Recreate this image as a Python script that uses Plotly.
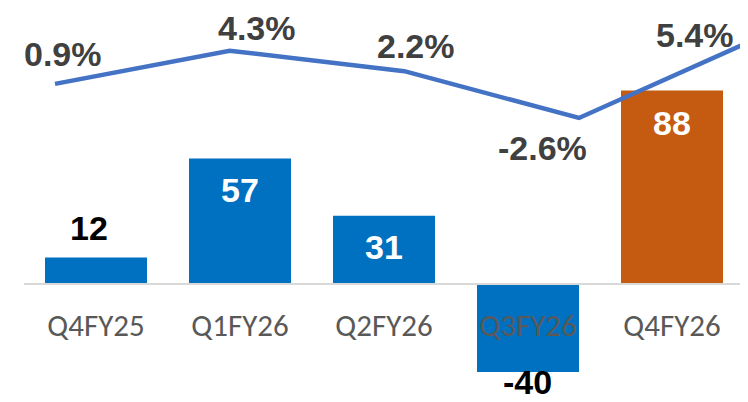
import plotly.graph_objects as go

# data
quarters = ["Q4FY25", "Q1FY26", "Q2FY26", "Q3FY26", "Q4FY26"]
values = [12, 57, 31, -40, 88]
growth = [0.9, 4.3, 2.2, -2.6, 5.4]

bar_colors = ["#0070C0", "#0070C0", "#0070C0", "#0070C0", "#C55A11"]
value_label_colors = ["#000000", "#FFFFFF", "#FFFFFF", "#000000", "#FFFFFF"]
value_label_shift = [(-7, 30), (0, -31), (0, -31), (-1, -10), (0, -33)]
growth_label_shift = [(8, 30), (27, 23), (12, 25), (-37, -30), (-59, 5)]

# page body adds an 8px margin, so the figure is a bit smaller than the window
PAD = 8
W, H = 748 - PAD, 402 - PAD

# pixel scales (bars axis and line axis), measured in window pixels
PX1, X0_1 = 144.0, 96.0 - PAD
PY1, Y0_1 = 2.2, 284.0 - PAD
PX2, X0_2 = 174.67, 55.0 - PAD
PY2, TOP2 = 9.75, 9.5 - PAD / 9.75

xr1 = [-X0_1 / PX1, (W - X0_1) / PX1]
yr1 = [Y0_1 / PY1 - H / PY1, Y0_1 / PY1]
xr2 = [-X0_2 / PX2, (W - X0_2) / PX2]
yr2 = [TOP2 - H / PY2, TOP2]

fig = go.Figure()

fig.add_trace(go.Bar(
    x=list(range(len(quarters))), y=values,
    marker=dict(color=bar_colors, line=dict(width=0)),
    width=102 / PX1, xaxis="x", yaxis="y", hoverinfo="skip",
))

fig.add_trace(go.Scatter(
    x=list(range(len(growth))), y=growth, mode="lines",
    line=dict(color="#4472C4", width=4.5),
    xaxis="x2", yaxis="y2", hoverinfo="skip",
))

# zero line
fig.add_shape(type="line", xref="x", yref="y", x0=-0.5, x1=len(quarters) - 0.5,
              y0=0, y1=0, line=dict(color="#D9D9D9", width=2), layer="above")

# bar value labels
for i, v in enumerate(values):
    dx, dy = value_label_shift[i]
    fig.add_annotation(x=i, y=v, xref="x", yref="y", text=str(v), showarrow=False,
                       xshift=dx, yshift=dy, height=28, borderpad=0,
                       font=dict(family="Liberation Sans, Arial", size=34,
                                 color=value_label_colors[i], weight="bold"))

# growth labels
for i, g in enumerate(growth):
    dx, dy = growth_label_shift[i]
    fig.add_annotation(x=i + dx / PX2, y=g + dy / PY2, xref="x2", yref="y2",
                       text=f"{g:.1f}%", showarrow=False, height=28, borderpad=0,
                       font=dict(family="Liberation Sans, Arial", size=34,
                                 color="#404040", weight="bold"))

fig.update_layout(
    width=W, height=H,
    margin=dict(l=0, r=0, t=0, b=0),
    paper_bgcolor="white", plot_bgcolor="white",
    showlegend=False,
    xaxis=dict(range=xr1, tickmode="array", tickvals=list(range(len(quarters))),
               ticktext=quarters, showgrid=False, zeroline=False, showline=False,
               ticks="", anchor="free", position=(H - Y0_1) / H,
               ticklabelstandoff=20,
               tickfont=dict(family="Carlito, Lato", size=31, color="#595959")),
    yaxis=dict(range=yr1, showgrid=False, zeroline=False, showticklabels=False),
    xaxis2=dict(range=xr2, overlaying="x", showgrid=False, zeroline=False,
                showticklabels=False, anchor="y2"),
    yaxis2=dict(range=yr2, overlaying="y", showgrid=False, zeroline=False,
                showticklabels=False, anchor="x2"),
)

fig.write_html("out.html")
